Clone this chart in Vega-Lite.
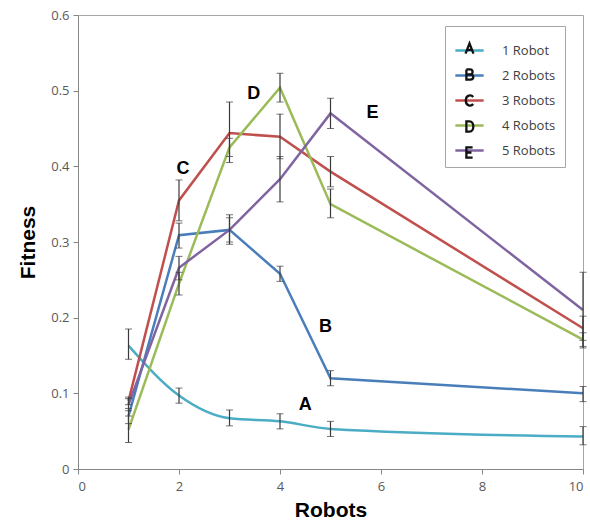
{
  "$schema": "https://vega.github.io/schema/vega-lite/v6.json",
  "width": 505,
  "height": 454,
  "autosize": {"type": "none"},
  "padding": {"left": 78, "top": 15, "right": 7, "bottom": 55},
  "background": "white",
  "config": {
    "view": {"stroke": "#a6a6a6", "strokeWidth": 1},
    "font": "Open Sans",
    "axisX": {
      "grid": false, "domainColor": "#868686", "tickColor": "#868686", "tickSize": 5,
      "labelFont": "Open Sans", "labelFontSize": 13, "labelColor": "#595959", "labelPadding": 6,
      "titleFont": "Liberation Sans", "titleFontWeight": "bold", "titleFontSize": 21, "titleColor": "black", "titlePadding": 6
    },
    "axisY": {
      "grid": false, "domainColor": "#868686", "tickColor": "#868686", "tickSize": 5,
      "labelFont": "Open Sans", "labelFontSize": 13, "labelColor": "#595959", "labelPadding": 4,
      "titleFont": "Liberation Sans", "titleFontWeight": "bold", "titleFontSize": 21, "titleColor": "black", "titlePadding": 12
    }
  },
  "datasets": {
    "main": [
      {"robots": 1, "series": "1 Robot", "fitness": 0.163, "lo": 0.145, "hi": 0.185},
      {"robots": 2, "series": "1 Robot", "fitness": 0.097, "lo": 0.087, "hi": 0.107},
      {"robots": 3, "series": "1 Robot", "fitness": 0.067, "lo": 0.057, "hi": 0.078},
      {"robots": 4, "series": "1 Robot", "fitness": 0.063, "lo": 0.053, "hi": 0.073},
      {"robots": 5, "series": "1 Robot", "fitness": 0.053, "lo": 0.043, "hi": 0.063},
      {"robots": 10, "series": "1 Robot", "fitness": 0.043, "lo": 0.032, "hi": 0.056},
      {"robots": 1, "series": "2 Robots", "fitness": 0.07, "lo": 0.06, "hi": 0.08},
      {"robots": 2, "series": "2 Robots", "fitness": 0.309, "lo": 0.292, "hi": 0.325},
      {"robots": 3, "series": "2 Robots", "fitness": 0.316, "lo": 0.297, "hi": 0.336},
      {"robots": 4, "series": "2 Robots", "fitness": 0.258, "lo": 0.248, "hi": 0.268},
      {"robots": 5, "series": "2 Robots", "fitness": 0.12, "lo": 0.11, "hi": 0.13},
      {"robots": 10, "series": "2 Robots", "fitness": 0.1, "lo": 0.089, "hi": 0.109},
      {"robots": 1, "series": "3 Robots", "fitness": 0.09, "lo": 0.085, "hi": 0.095},
      {"robots": 2, "series": "3 Robots", "fitness": 0.355, "lo": 0.328, "hi": 0.382},
      {"robots": 3, "series": "3 Robots", "fitness": 0.444, "lo": 0.405, "hi": 0.485},
      {"robots": 4, "series": "3 Robots", "fitness": 0.439, "lo": 0.41, "hi": 0.469},
      {"robots": 5, "series": "3 Robots", "fitness": 0.393, "lo": 0.373, "hi": 0.413},
      {"robots": 10, "series": "3 Robots", "fitness": 0.186, "lo": 0.17, "hi": 0.202},
      {"robots": 1, "series": "4 Robots", "fitness": 0.052, "lo": 0.035, "hi": 0.07},
      {"robots": 2, "series": "4 Robots", "fitness": 0.245, "lo": 0.23, "hi": 0.26},
      {"robots": 3, "series": "4 Robots", "fitness": 0.425, "lo": 0.413, "hi": 0.437},
      {"robots": 4, "series": "4 Robots", "fitness": 0.504, "lo": 0.485, "hi": 0.523},
      {"robots": 5, "series": "4 Robots", "fitness": 0.35, "lo": 0.332, "hi": 0.37},
      {"robots": 10, "series": "4 Robots", "fitness": 0.171, "lo": 0.162, "hi": 0.18},
      {"robots": 1, "series": "5 Robots", "fitness": 0.085, "lo": 0.077, "hi": 0.093},
      {"robots": 2, "series": "5 Robots", "fitness": 0.266, "lo": 0.25, "hi": 0.281},
      {"robots": 3, "series": "5 Robots", "fitness": 0.316, "lo": 0.3, "hi": 0.332},
      {"robots": 4, "series": "5 Robots", "fitness": 0.383, "lo": 0.353, "hi": 0.413},
      {"robots": 5, "series": "5 Robots", "fitness": 0.47, "lo": 0.45, "hi": 0.49},
      {"robots": 10, "series": "5 Robots", "fitness": 0.21, "lo": 0.16, "hi": 0.26}
    ],
    "labels": [
      {"label": "A", "robots": 4.5, "fitness": 0.085},
      {"label": "B", "robots": 4.9, "fitness": 0.188},
      {"label": "C", "robots": 2.08, "fitness": 0.397},
      {"label": "D", "robots": 3.48, "fitness": 0.495},
      {"label": "E", "robots": 5.83, "fitness": 0.47}
    ]
  },
  "layer": [
    {
      "data": {"name": "main"},
      "transform": [{"filter": "datum.series == '1 Robot'"}],
      "mark": {"type": "line", "strokeWidth": 2.5, "interpolate": "monotone"},
      "encoding": {
        "x": {"field": "robots", "type": "quantitative", "scale": {"domain": [0, 10], "nice": false, "zero": false},
              "axis": {"title": "Robots", "values": [0, 2, 4, 6, 8, 10]}},
        "y": {"field": "fitness", "type": "quantitative", "title": "Fitness", "scale": {"domain": [0, 0.6], "nice": false},
              "axis": {"title": "Fitness", "values": [0, 0.1, 0.2, 0.3, 0.4, 0.5, 0.6],
                       "labelExpr": "datum.value == 0 ? '0' : format(datum.value, '.1f')"}},
        "color": {
          "field": "series", "type": "nominal",
          "scale": {
            "domain": ["1 Robot", "2 Robots", "3 Robots", "4 Robots", "5 Robots"],
            "range": ["#4bacc6", "#4a7ebb", "#c0504d", "#9bbb59", "#8064a2"]
          },
          "legend": {
            "title": null, "orient": "none", "legendX": 367, "legendY": 11,
            "symbolType": "stroke", "symbolStrokeWidth": 2.5, "symbolSize": 800,
            "labelFont": "Open Sans", "labelFontSize": 13, "labelColor": "#404040",
            "rowPadding": 2, "padding": 9, "strokeColor": "#a6a6a6", "fillColor": "white",
            "labelOffset": 17
          }
        }
      }
    },
    {
      "data": {"name": "main"},
      "transform": [{"filter": "datum.series != '1 Robot'"}],
      "mark": {"type": "line", "strokeWidth": 2.5},
      "encoding": {
        "x": {"field": "robots", "type": "quantitative", "title": "Robots"},
        "y": {"field": "fitness", "type": "quantitative", "title": "Fitness"},
        "color": {"field": "series", "type": "nominal"}
      }
    },
    {
      "data": {"name": "main"},
      "mark": {"type": "errorbar", "color": "#3a3a3a", "ticks": {"size": 7}, "rule": {"strokeWidth": 1.2}},
      "encoding": {
        "x": {"field": "robots", "type": "quantitative", "title": "Robots"},
        "y": {"field": "lo", "type": "quantitative", "title": "Fitness"},
        "y2": {"field": "hi"}
      }
    },
    {
      "data": {"name": "labels"},
      "mark": {"type": "text", "font": "Liberation Sans", "fontWeight": "bold", "fontSize": 18, "color": "black", "align": "center", "baseline": "middle"},
      "encoding": {
        "x": {"field": "robots", "type": "quantitative", "title": "Robots"},
        "y": {"field": "fitness", "type": "quantitative", "title": "Fitness"},
        "text": {"field": "label"}
      }
    },
    {
      "data": {"name": "labels"},
      "mark": {"type": "point", "opacity": 0, "filled": false},
      "encoding": {
        "x": {"field": "robots", "type": "quantitative", "title": "Robots"},
        "y": {"field": "fitness", "type": "quantitative", "title": "Fitness"},
        "shape": {
          "field": "label", "type": "nominal",
          "scale": {
            "domain": ["A", "B", "C", "D", "E"],
            "range": [
              "M-0.28,0.36L0,-0.36L0.28,0.36M-0.16,0.1L0.16,0.1",
              "M-0.22,-0.36V0.36H0.06C0.34,0.36 0.34,0 0.06,0H-0.22M-0.22,-0.36H0.03C0.28,-0.36 0.28,0 0.03,0",
              "M0.26,-0.25C0.12,-0.44 -0.26,-0.4 -0.26,0C-0.26,0.4 0.12,0.44 0.26,0.25",
              "M-0.22,-0.36V0.36H0C0.36,0.36 0.36,-0.36 0,-0.36Z",
              "M0.22,-0.36H-0.22V0.36H0.22M-0.22,0H0.14"
            ]
          },
          "legend": {
            "title": null, "orient": "none", "legendX": 367, "legendY": 9,
            "symbolSize": 800, "symbolOpacity": 1, "symbolStrokeColor": "#111111", "symbolFillColor": "transparent",
            "symbolStrokeWidth": 2.3,
            "labelFont": "Open Sans", "labelFontSize": 13, "labelColor": "transparent",
            "labelExpr": "' '",
            "rowPadding": 0, "padding": 9, "labelOffset": 17
          }
        }
      }
    }
  ]
}
